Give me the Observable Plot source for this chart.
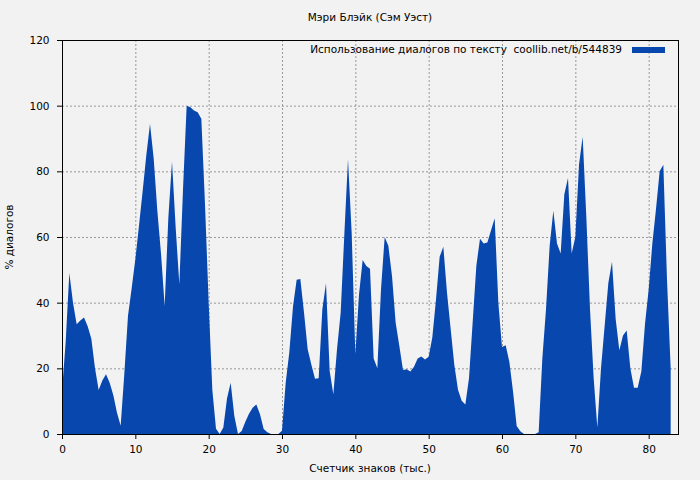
<!DOCTYPE html>
<html><head><meta charset="utf-8">
<script src="https://cdn.jsdelivr.net/npm/d3@7"></script>
<script src="https://cdn.jsdelivr.net/npm/@observablehq/plot@0.6"></script>
<style>
html,body{margin:0;padding:0;background:#f2f2f2}
svg{display:block}
</style>
</head><body><div id="chart"></div>
<script>
// Character counter (thousands)
const charCount = [
  0,0.5,1,1.5,2,2.5,3,3.5,4,4.5,5,5.5,6,6.5,7,7.5,8,8.5,9,9.5,
  10,10.5,11,11.5,12,12.5,13,13.5,14,14.5,15,15.5,16,16.5,17,17.5,18,18.5,19,19.5,
  20,20.5,21,21.5,22,22.5,23,23.5,24,24.5,25,25.5,26,26.5,27,27.5,28,28.5,29,29.5,
  30,30.5,31,31.5,32,32.5,33,33.5,34,34.5,35,35.5,36,36.5,37,37.5,38,38.5,39,39.5,
  40,40.5,41,41.5,42,42.5,43,43.5,44,44.5,45,45.5,46,46.5,47,47.5,48,48.5,49,49.5,
  50,50.5,51,51.5,52,52.5,53,53.5,54,54.5,55,55.5,56,56.5,57,57.5,58,58.5,59,59.5,
  60,60.5,61,61.5,62,62.5,63,63.5,64,64.5,65,65.5,66,66.5,67,67.5,68,68.5,69,69.5,
  70,70.5,71,71.5,72,72.5,73,73.5,74,74.5,75,75.5,76,76.5,77,77.5,78,78.5,79,79.5,
  80,80.5,81,81.5,82,82.5,83
];
// Dialogue share (%)
const dialogPct = [
  13,28,49,40,33.4,34.6,35.5,32.8,29,20,13.4,16.3,18.2,15.6,11.8,6.5,2.5,18.4,36,44.4,
  53.2,63.5,74,85,94.4,84,68,55,39,65.8,83,62.9,45.6,74.5,100,99.5,98.5,98,96,70,
  40,13.4,1.6,0,2,10.8,15.6,5.5,0,0.9,3.7,6.2,8,9,6,1.5,0.5,0,0,0,
  1,15.5,25,38.8,47,47.2,37,25.8,21.2,16.8,17,38,45.9,19.2,12.1,25.8,36.9,60.8,83.7,61.3,
  24.3,42.5,53,51.2,50.3,23,20,44,60,57.3,48.1,33.9,26.8,19.5,19.7,19,20.5,23,23.6,22.7,
  23.5,29.5,41,54,57,43,32,21,13.5,10.1,9,17,34,51.2,59.5,58,58.3,62,65.7,40,
  26.5,27,22,13,2.4,0.8,0,0,0,0,0.5,23,38,57.3,68,58,55,73,78,55,
  60,82,90.5,66,38,17,2,20,33,46,52.5,35,25.5,30,31.5,20,14.1,14.1,19,33.5,
  44,58,68.5,80,82,47,20
];
const xTicks = [0,10,20,30,40,50,60,70,80];
const yTicks = [0,20,40,60,80,100,120];
const titleText = "Мэри Блэйк (Сэм Уэст)";
const legendText = "Использование диалогов по тексту  coollib.net/b/544839";
const xLabel = "Счетчик знаков (тыс.)";
const yLabel = "% диалогов";

const data = charCount.map((x, i) => ({x, v: dialogPct[i]}));
const blue = "#0847ad";
const W = 700, H = 480, mL = 62, mR = 22, mT = 40, mB = 46;
const font = "DejaVu Sans, Verdana, sans-serif";
const fs = 10.5;

const chart = Plot.plot({
  width: W, height: H,
  marginLeft: mL, marginRight: mR, marginTop: mT, marginBottom: mB,
  style: {background: "#f2f2f2", fontFamily: font, fontSize: fs + "px", color: "#000", overflow: "visible"},
  x: {domain: [0, 84], ticks: xTicks, tickSize: 5, tickPadding: 6, label: null, tickFormat: d => String(d)},
  y: {domain: [0, 120], ticks: yTicks, tickSize: 5, tickPadding: 8, label: null, tickFormat: d => String(d)},
  marks: [
    Plot.gridX(xTicks, {stroke: "#999", strokeOpacity: 1, strokeDasharray: "2,2"}),
    Plot.gridY(yTicks, {stroke: "#999", strokeOpacity: 1, strokeDasharray: "2,2"}),
    Plot.areaY(data, {x: "x", y: "v", curve: "linear", fill: blue}),
    Plot.frame({stroke: "#000", strokeWidth: 1})
  ]
});
document.getElementById("chart").appendChild(chart);

const svg = d3.select(chart);
svg.append("text").text(titleText)
  .attr("x", mL + (W - mL - mR) / 2).attr("y", 18)
  .attr("text-anchor", "middle").attr("dominant-baseline", "middle")
  .attr("font-family", font).attr("font-size", fs).attr("fill", "#000");
svg.append("text").text(xLabel)
  .attr("x", mL + (W - mL - mR) / 2).attr("y", 469)
  .attr("text-anchor", "middle").attr("dominant-baseline", "middle")
  .attr("font-family", font).attr("font-size", fs).attr("fill", "#000");
svg.append("text").text(yLabel)
  .attr("transform", `translate(10,${mT + (H - mT - mB) / 2}) rotate(-90)`)
  .attr("text-anchor", "middle").attr("dominant-baseline", "middle")
  .attr("font-family", font).attr("font-size", fs).attr("fill", "#000");
svg.append("text").text(legendText)
  .attr("x", 622).attr("y", 50)
  .attr("text-anchor", "end").attr("dominant-baseline", "middle")
  .attr("font-family", font).attr("font-size", fs).attr("fill", "#000")
  .style("white-space", "pre").attr("xml:space", "preserve");
svg.append("rect").attr("x", 632).attr("y", 47).attr("width", 33).attr("height", 6).attr("fill", blue);
</script>
</body></html>
